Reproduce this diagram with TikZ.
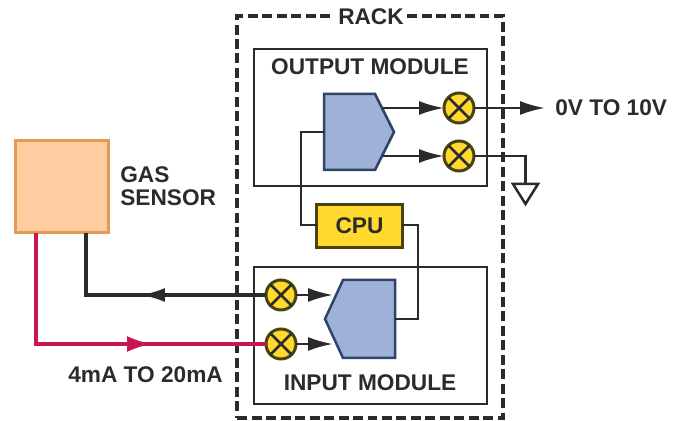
\documentclass[tikz,border=0pt]{standalone}
\usepackage{fontspec}
\setmainfont{Liberation Sans}
\usetikzlibrary{arrows.meta}
\usetikzlibrary{calc}
\definecolor{blk}{HTML}{2B2B2B}
\definecolor{adcblue}{HTML}{9DB2D6}
\definecolor{adcline}{HTML}{2F4468}
\definecolor{chipyellow}{HTML}{FFD92B}
\definecolor{chipline}{HTML}{4A4310}
\definecolor{sensorfill}{HTML}{FFCDA0}
\definecolor{sensorline}{HTML}{E39A55}
\definecolor{loopred}{HTML}{C8174F}
\tikzset{
  lbl/.style={font=\fontsize{12.9}{12}\selectfont\bfseries, text=blk, inner sep=0pt},
  modbox/.style={draw=blk, line width=0.05cm, minimum width=4.66cm, minimum height=2.74cm, outer sep=0pt},
  wire/.style={draw=blk, line width=0.05cm},
  tip/.style={-{Latex[length=0.5cm,width=0.28cm]}},
  mult/.style={circle, draw=chipline, fill=chipyellow, line width=0.06cm, minimum size=0.6cm, inner sep=0pt, outer sep=0pt},
  adc/.style={draw=adcline, fill=adcblue, line width=0.05cm}
}
\begin{document}
\begin{tikzpicture}[x=0.02cm,y=-0.02cm]
  \useasboundingbox (0,0) rectangle (683,421);

  \node[draw=blk, line width=0.07cm, dash pattern=on 0.2cm off 0.09cm, minimum width=5.32cm, minimum height=8.04cm, outer sep=0pt] (rack) at (370,217) {};
  \node[lbl, fill=white, inner xsep=0.06cm, inner ysep=0.03cm] (racklbl) at (371,17) {RACK};

  \node[modbox] (outmod) at (370.5,117.5) {};
  \node[modbox] (inmod) at (370.5,335.5) {};
  \node[lbl] (outlbl) at (370,67) {OUTPUT MODULE};
  \node[lbl] (inlbl) at (370,383) {INPUT MODULE};

  % converter blocks
  \coordinate (dac) at (324,132);
  \coordinate (adc) at (395,319);
  \draw[adc] (324,94) -- (375,94) -- (394,132) -- (375,170) -- (324,170) -- cycle;
  \draw[adc] (395,280) -- (343,280) -- (325,319) -- (343,358) -- (395,358) -- cycle;

  \node[mult] (m1) at (459,108) {};
  \node[mult] (m2) at (459,156) {};
  \node[mult] (m3) at (281,295) {};
  \node[mult] (m4) at (281,344) {};
  \foreach \m in {m1,m2,m3,m4} {
    \draw[wire] (\m.north west) -- (\m.south east);
    \draw[wire] (\m.north east) -- (\m.south west);
  }

  \node[draw=chipline, fill=chipyellow, line width=0.06cm, minimum width=1.72cm, minimum height=0.86cm, outer sep=0pt, lbl] (cpu) at (359.5,226) {CPU};
  \node[draw=sensorline, fill=sensorfill, line width=0.07cm, minimum width=1.86cm, minimum height=1.84cm, outer sep=0pt] (sensor) at (62,186.5) {};
  \node[lbl, align=left, anchor=west] (gas) at (120,186) {GAS\\[0.04cm]SENSOR};
  \node[lbl, anchor=west] (range) at (68,375) {4mA TO 20mA};
  \node[lbl, anchor=west] (vout) at (555,108) {0V TO 10V};

  % wires inside the rack
  \draw[wire] (dac) -- (301,132) -- (301,225) -- (cpu.west |- 301,225);
  \draw[wire] (cpu.east |- 418,225) -- (418,225) -- (418,319) -- (adc);
  \coordinate (o1) at (383,108);
  \coordinate (o2) at (383,156);
  \coordinate (i1) at (333,295);
  \coordinate (i2) at (333,344);
  \draw[wire, tip] (o1) -- (m1.west);
  \draw[wire, tip] (o2) -- (m2.west);
  \draw[wire, tip] (m3.east) -- (i1);
  \draw[wire, tip] (m4.east) -- (i2);

  % output and ground
  \coordinate (voutend) at (545,108);
  \coordinate (gnd) at (525.5,184);
  \draw[wire, tip] (m1.east) -- (voutend);
  \draw[wire] (m2.east) -- (gnd |- m2.east) -- (gnd);
  \draw[wire, line join=miter] (513,184) -- (538,184) -- (525.5,204) -- cycle;

  % current loop
  \coordinate (blackmid) at (140,295);
  \coordinate (redmid) at (152,344);
  \draw[wire, line width=0.07cm] (m3.west) -- (86,295) -- (86,233);
  \draw[wire, line width=0.07cm, tip] (m3.west) -- (blackmid);
  \draw[draw=loopred, line width=0.07cm] (36,233) -- (36,344) -- (m4.west);
  \draw[draw=loopred, line width=0.07cm, -{Latex[length=0.5cm,width=0.32cm]}] (36,344) -- (redmid);
\end{tikzpicture}
\end{document}
